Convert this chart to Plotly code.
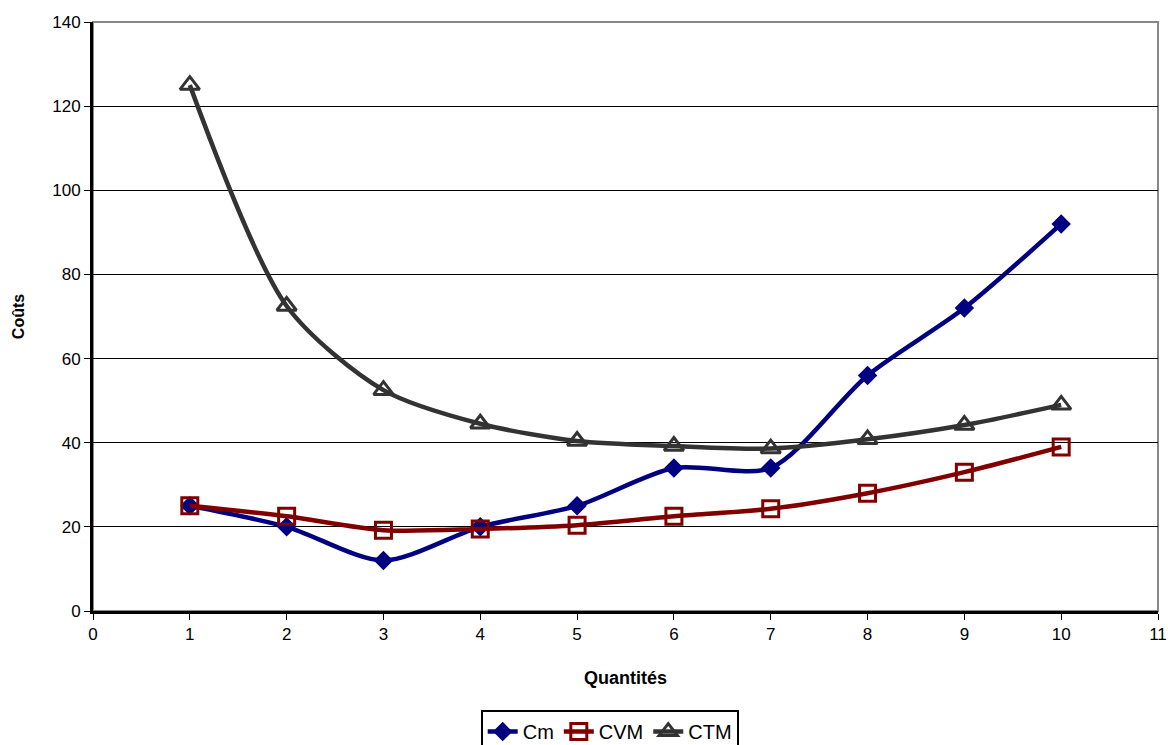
import plotly.graph_objects as go

quantites = [1, 2, 3, 4, 5, 6, 7, 8, 9, 10]
cm = [25, 20, 12, 20, 25, 34, 34, 56, 72, 92]
cvm = [25, 22.5, 19.2, 19.5, 20.4, 22.5, 24.3, 28, 33, 39]
ctm = [125, 72.5, 52.5, 44.5, 40.4, 39.2, 38.6, 40.8, 44.2, 49]

FONT = "Liberation Sans, Arial, sans-serif"

fig = go.Figure()
fig.add_trace(go.Scatter(
    x=quantites, y=cm, name="Cm", mode="lines+markers",
    line=dict(color="#000080", width=4.5, shape="spline", smoothing=0.8),
    marker=dict(symbol="diamond", size=15, color="#000080"),
))
fig.add_trace(go.Scatter(
    x=quantites, y=cvm, name="CVM", mode="lines+markers",
    line=dict(color="#800000", width=4.5, shape="spline", smoothing=0.8),
    marker=dict(symbol="square-open", size=16, color="#800000", line=dict(width=3)),
))
fig.add_trace(go.Scatter(
    x=quantites, y=ctm, name="CTM", mode="lines+markers",
    line=dict(color="#333333", width=4.5, shape="spline", smoothing=0.8),
    marker=dict(symbol="triangle-up-open", size=17, color="#333333", line=dict(width=3)),
))

fig.update_layout(
    width=1168, height=745,
    margin=dict(l=93, r=10, t=22, b=134, autoexpand=False),
    paper_bgcolor="white", plot_bgcolor="white",
    font=dict(family=FONT, size=16, color="black"),
    showlegend=True,
    legend=dict(
        orientation="h", x=0.522, xref="container", xanchor="center",
        y=0.018, yref="container", yanchor="middle",
        bordercolor="black", borderwidth=2, bgcolor="white",
        font=dict(family=FONT, size=20, color="black"),
        tracegroupgap=0,
    ),
    shapes=[dict(type="rect", xref="paper", yref="paper", x0=0, y0=0, x1=1, y1=1,
                 line=dict(color="#888888", width=2), layer="below")],
)
fig.update_xaxes(
    range=[0, 11], tick0=0, dtick=1, showgrid=False, zeroline=False, automargin=False,
    showline=True, linecolor="black", linewidth=3,
    ticks="outside", ticklen=6, tickcolor="black", tickwidth=1,
    title=dict(text="<b>Quantités</b>", font=dict(family=FONT, size=18), standoff=28),
    tickfont=dict(family=FONT, size=17),
)
fig.update_yaxes(
    range=[0, 140], tick0=0, dtick=20, showgrid=True, gridcolor="black", gridwidth=1.2,
    zeroline=False, showline=True, linecolor="black", linewidth=3, automargin=False,
    ticks="outside", ticklen=6, tickcolor="black", tickwidth=1,
    title=dict(text="<b>Coûts</b>", font=dict(family=FONT, size=16), standoff=24),
    tickfont=dict(family=FONT, size=17),
)

fig.write_html("out.html")
